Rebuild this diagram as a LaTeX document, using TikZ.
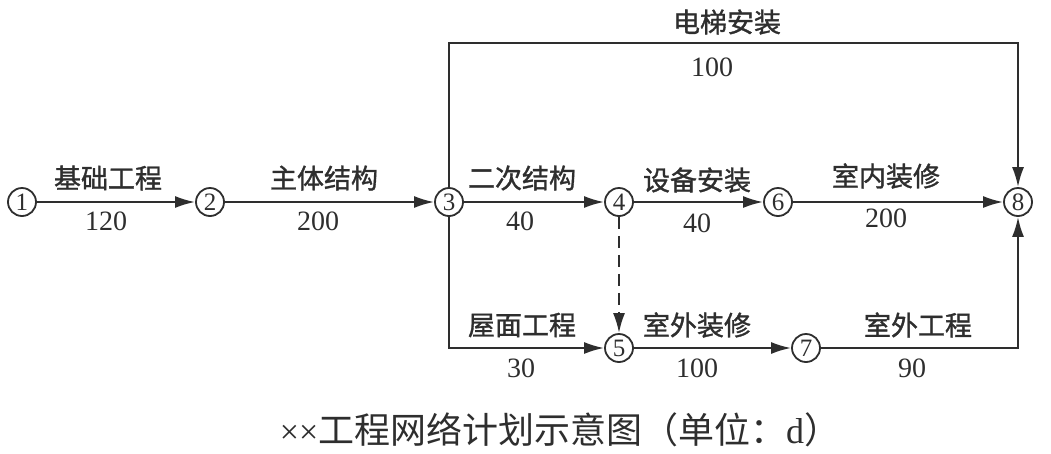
\documentclass[tikz,border=0pt]{standalone}
\usepackage{fontspec}
\setmainfont{Liberation Serif}
\newfontfamily\cjk{Noto Sans CJK SC}[FakeBold=1.2]
\newfontfamily\cjkt{Noto Sans CJK SC}
\usetikzlibrary{arrows.meta}
\definecolor{ink}{HTML}{2E2E2E}
\tikzset{
  ev/.style={circle,draw=ink,line width=1.8pt,minimum size=28pt,inner sep=0pt,font=\fontsize{25}{25}\selectfont,text=ink},
  arr/.style={draw=ink,line width=2.2pt,-{Latex[length=20pt,width=12pt]}},
  cn/.style={font=\cjk\fontsize{27}{27}\selectfont,text=ink},
  num/.style={font=\fontsize{28}{28}\selectfont,text=ink},
  ttl/.style={font=\cjkt\fontsize{36}{36}\selectfont,text=ink}
}
\begin{document}
\begin{tikzpicture}[x=1pt,y=-1pt]
\useasboundingbox (0,0) rectangle (1051,453);
\node[ev] (n1) at (22,202) {1};
\node[ev] (n2) at (210,202) {2};
\node[ev] (n3) at (449,202) {3};
\node[ev] (n4) at (619,202) {4};
\node[ev] (n6) at (778,202) {6};
\node[ev] (n8) at (1018,202) {8};
\node[ev] (n5) at (619,348) {5};
\node[ev] (n7) at (806,348) {7};
\coordinate (tl) at (449,43);
\coordinate (tr) at (1018,43);
\coordinate (bl) at (449,348);
\coordinate (br) at (1018,348);
\draw[arr] (n1) -- (n2);
\draw[arr] (n2) -- (n3);
\draw[arr] (n3) -- (n4);
\draw[arr] (n4) -- (n6);
\draw[arr] (n6) -- (n8);
\draw[arr] (n3) -- (tl) -- (tr) -- (n8);
\draw[arr] (n3) -- (bl) -- (n5);
\draw[arr] (n5) -- (n7);
\draw[arr] (n7) -- (br) -- (n8);
\draw[arr,dashed,dash pattern=on 12pt off 7pt] (n4) -- (n5);
\node[cn] (l12) at (108,178) {基础工程};
\node[num] (d12) at (106,221) {120};
\node[cn] (l23) at (324,178) {主体结构};
\node[num] (d23) at (318,221) {200};
\node[cn] (l34) at (522,178) {二次结构};
\node[num] (d34) at (520,221) {40};
\node[cn] (l46) at (697,180) {设备安装};
\node[num] (d46) at (697,223) {40};
\node[cn] (l68) at (886,176) {室内装修};
\node[num] (d68) at (886,218) {200};
\node[cn] (l38) at (727,22) {电梯安装};
\node[num] (d38) at (712,67) {100};
\node[cn] (l35) at (522,325) {屋面工程};
\node[num] (d35) at (521,368) {30};
\node[cn] (l57) at (697,325) {室外装修};
\node[num] (d57) at (697,368) {100};
\node[cn] (l78) at (918,325) {室外工程};
\node[num] (d78) at (912,368) {90};
\node[ttl] (title) at (560,430) {{\rmfamily\fontsize{34}{34}\selectfont ××}工程网络计划示意图（单位：{\rmfamily d}）};
\end{tikzpicture}
\end{document}
